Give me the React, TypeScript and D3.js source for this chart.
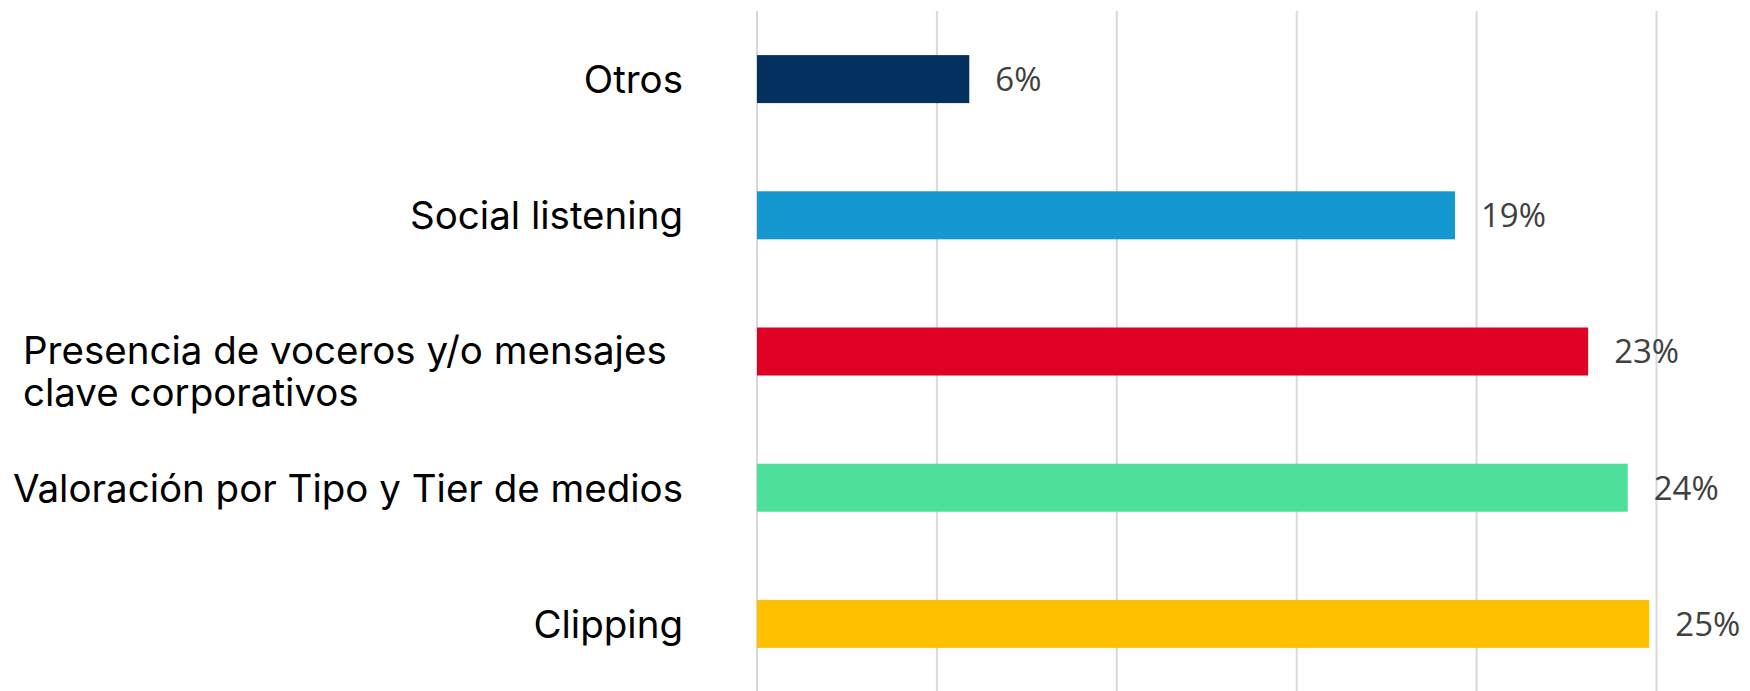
import React, { useEffect, useRef } from "react";
import * as d3 from "d3";

const categories = [
  "Otros",
  "Social listening",
  "Presencia de voceros y/o mensajes clave corporativos",
  "Valoración por Tipo y Tier de medios",
  "Clipping",
];
const values = [5.9, 19.4, 23.1, 24.2, 24.8];
const valueLabels = ["6%", "19%", "23%", "24%", "25%"];
const colors = ["#03305E", "#1597CF", "#E00025", "#4CE09A", "#FFC000"];
const gridTicks = [0, 5, 10, 15, 20, 25];
const wrappedLines: Record<string, string[]> = {
  "Presencia de voceros y/o mensajes clave corporativos": [
    "Presencia de voceros y/o mensajes",
    "clave corporativos",
  ],
};

const W = 1750;
const H = 691;

export default function App() {
  const ref = useRef<SVGSVGElement | null>(null);

  useEffect(() => {
    document.body.style.margin = "0";
    const svg = d3.select(ref.current);
    svg.selectAll("*").remove();

    const x = d3.scaleLinear().domain([0, 25]).range([757, 1656.5]);
    const y = d3
      .scaleBand<string>()
      .domain(categories)
      .range([11, 692])
      .paddingInner(0.6476)
      .paddingOuter(0.3238);

    svg
      .append("g")
      .selectAll("line")
      .data(gridTicks)
      .join("line")
      .attr("x1", (d) => x(d))
      .attr("x2", (d) => x(d))
      .attr("y1", 11)
      .attr("y2", H)
      .attr("stroke", "#D9D9D9")
      .attr("stroke-width", 2);

    svg
      .append("g")
      .selectAll("rect")
      .data(categories)
      .join("rect")
      .attr("x", x(0))
      .attr("y", (d) => y(d)!)
      .attr("width", (_d, i) => x(values[i]) - x(0))
      .attr("height", y.bandwidth())
      .attr("fill", (_d, i) => colors[i]);

    svg
      .append("g")
      .selectAll("text")
      .data(categories)
      .join("text")
      .attr("x", (_d, i) => x(values[i]) + 26)
      .attr("y", (d) => y(d)! + y.bandwidth() / 2)
      .attr("dy", "0.36em")
      .attr("font-family", "'Open Sans', sans-serif")
      .attr("font-size", 33)
      .attr("fill", "#404040")
      .text((_d, i) => valueLabels[i]);

    const lab = svg.append("g");
    const fs = 38.5;
    categories.forEach((c) => {
      const cy = y(c)! + y.bandwidth() / 2;
      const lines = wrappedLines[c];
      if (lines) {
        const t = lab
          .append("text")
          .attr("font-family", "Inter, sans-serif")
          .attr("font-size", fs)
          .attr("fill", "#000")
          .attr("text-anchor", "start");
        lines.forEach((l, k) => {
          t.append("tspan")
            .attr("x", 23)
            .attr("y", cy + 12 + k * 42)
            .text(l);
        });
      } else {
        lab
          .append("text")
          .attr("x", 683)
          .attr("y", cy + 14)
          .attr("text-anchor", "end")
          .attr("font-family", "Inter, sans-serif")
          .attr("font-size", fs)
          .attr("fill", "#000")
          .text(c);
      }
    });
  }, []);

  return (
    <svg
      ref={ref}
      width={W}
      height={H}
      style={{ position: "absolute", left: 0, top: 0, background: "#fff" }}
    />
  );
}
